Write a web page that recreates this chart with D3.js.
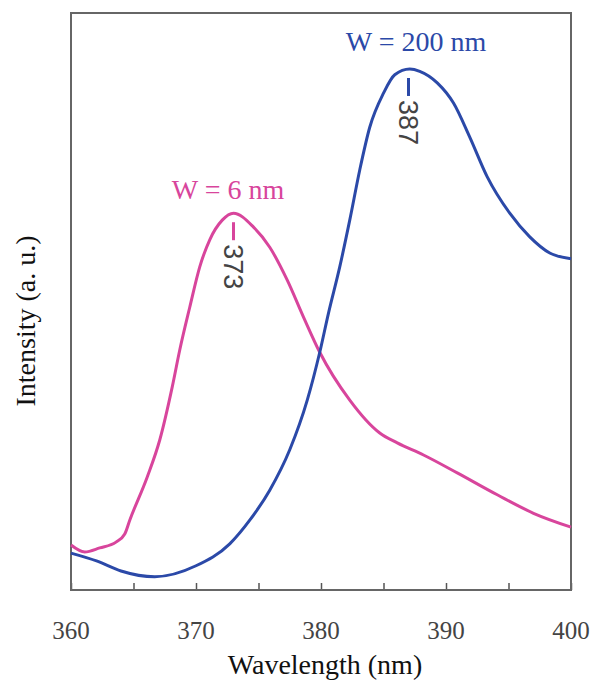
<!DOCTYPE html>
<html lang="en">
<head>
<meta charset="utf-8">
<title>PL spectra</title>
<script src="https://d3js.org/d3.v7.min.js"></script>
<style>
body { margin: 0; background: #fff; }
svg text { font-family: "Liberation Serif", "Times New Roman", serif; }
.peak-label { font-family: "Liberation Sans Narrow", "Liberation Sans", Arial, sans-serif; }
</style>
</head>
<body>
<svg width="591" height="681"></svg>
<script>
// wavelength (nm) and intensity (a.u., 0-100 of the frame height)
var wl6  = [360, 361.1, 362.3, 363.6, 364.3, 364.7, 366.1, 367.1, 368.1, 368.7, 369.5, 370.3, 371.1, 372.1, 373.0,
            374.6, 375.9, 377.3, 378.6, 379.9, 382.3, 384.7, 386.1, 388.2, 390.9, 394.1, 397.0, 400];
var int6 = [7.8, 6.6, 7.3, 8.3, 9.7, 12.1, 19.6, 26.0, 35.2, 41.6, 49.0, 56.0, 60.7, 64.1, 65.3,
            62.9, 59.4, 53.7, 47.3, 41.2, 32.9, 27.2, 25.5, 23.4, 20.3, 16.5, 13.3, 10.9];

var wl200  = [360, 362.1, 364.0, 366.7, 370.0, 372.7, 374.3, 375.9, 377.5, 378.9, 379.9, 380.6, 381.5, 382.3,
              383.1, 383.9, 385.0, 385.9, 387.1, 387.9, 389.3, 390.6, 391.9, 393.3, 395.1, 396.7, 398.3, 400];
var int200 = [6.4, 5.0, 3.3, 2.3, 4.2, 8.0, 12.1, 17.3, 24.3, 32.9, 41.2, 48.0, 56.0, 64.1,
              72.8, 80.2, 86.1, 89.3, 90.3, 89.9, 87.9, 84.4, 78.5, 71.6, 65.3, 61.2, 58.4, 57.4];

var seriesNames = ["W = 6 nm", "W = 200 nm"];
var peakLabels = ["373", "387"];
var xTickLabels = [360, 370, 380, 390, 400];
var minorTicks = [365, 375, 385, 395];

var colors = ["#d8459c", "#2b49a8"];

var svg = d3.select("svg");
var mLeft = 71, mRight = 571, mTop = 13, mBottom = 590;

var x = d3.scaleLinear().domain([360, 400]).range([mLeft, mRight]);
var y = d3.scaleLinear().domain([0, 100]).range([mBottom, mTop]);

var series = [
  { name: seriesNames[0], peak: peakLabels[0], pts: wl6.map(function(w, i) { return [w, int6[i]]; }) },
  { name: seriesNames[1], peak: peakLabels[1], pts: wl200.map(function(w, i) { return [w, int200[i]]; }) }
];

var line = d3.line()
    .x(function(d) { return x(d[0]); })
    .y(function(d) { return y(d[1]); })
    .curve(d3.curveMonotoneX);

// bottom ticks, pointing inward
var xAxis = d3.axisBottom(x)
    .tickValues(xTickLabels.concat(minorTicks))
    .tickSizeInner(-7).tickSizeOuter(0)
    .tickFormat("");
var ax = svg.append("g").attr("transform", "translate(0," + mBottom + ")").call(xAxis);
ax.select(".domain").remove();
ax.selectAll(".tick line").attr("stroke", "#555").attr("stroke-width", 1.5);

// frame
svg.append("rect")
    .attr("x", mLeft).attr("y", mTop)
    .attr("width", mRight - mLeft).attr("height", mBottom - mTop)
    .attr("fill", "none").attr("stroke", "#666").attr("stroke-width", 2);

svg.append("g").selectAll("text")
  .data(xTickLabels)
  .enter().append("text")
    .attr("x", function(d) { return x(d); })
    .attr("y", 639)
    .attr("text-anchor", "middle")
    .attr("fill", "#444")
    .style("font-size", "25px")
    .text(function(d) { return d; });

svg.append("text")
    .attr("x", 325).attr("y", 674)
    .attr("text-anchor", "middle")
    .attr("fill", "#111")
    .style("font-size", "28px")
    .text("Wavelength (nm)");

svg.append("text")
    .attr("transform", "translate(35,321) rotate(-90)")
    .attr("text-anchor", "middle")
    .attr("fill", "#111")
    .style("font-size", "28px")
    .text("Intensity (a. u.)");

// curves
svg.append("g").selectAll("path")
  .data(series)
  .enter().append("path")
    .attr("d", function(d) { return line(d.pts); })
    .attr("fill", "none")
    .attr("stroke", function(d, i) { return colors[i]; })
    .attr("stroke-width", 3);

// peak markers + labels
series.forEach(function(s, i) {
  var pk = s.pts.reduce(function(a, b) { return b[1] > a[1] ? b : a; });
  var px = x(+s.peak), py = y(pk[1]);
  svg.append("line")
      .attr("x1", px).attr("x2", px)
      .attr("y1", py + 9).attr("y2", py + 27)
      .attr("stroke", colors[i]).attr("stroke-width", 3);
  svg.append("text")
      .attr("class", "peak-label")
      .attr("transform", "translate(" + (px - 10) + "," + (py + 31) + ") rotate(90)")
      .attr("fill", "#444")
      .style("font-size", "27px")
      .text(s.peak);
});

// series names
svg.append("text")
    .attr("x", 228).attr("y", 199)
    .attr("text-anchor", "middle")
    .attr("fill", colors[0])
    .style("font-size", "28px")
    .text(seriesNames[0]);

svg.append("text")
    .attr("x", 416).attr("y", 51)
    .attr("text-anchor", "middle")
    .attr("fill", colors[1])
    .style("font-size", "28px")
    .text(seriesNames[1]);
</script>
</body>
</html>
